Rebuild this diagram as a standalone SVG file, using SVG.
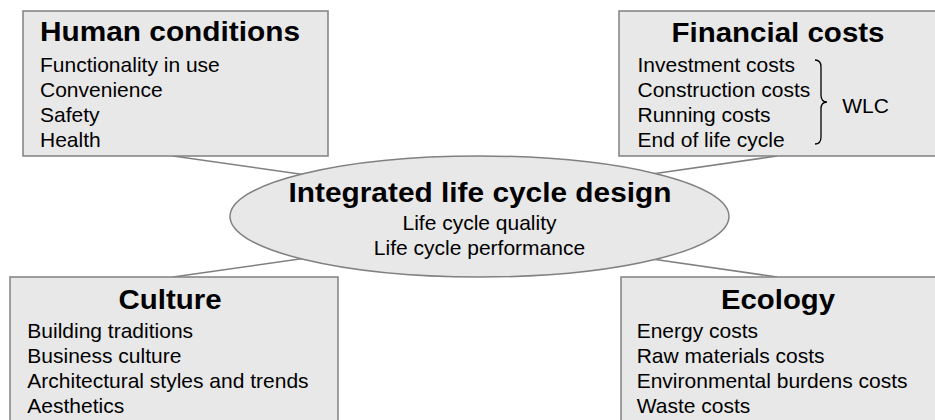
<svg xmlns="http://www.w3.org/2000/svg" width="935" height="420" viewBox="0 0 935 420">
<style>
.box{fill:#e8e8e8;stroke:#808080;stroke-width:1.5}
.con{stroke:#808080;stroke-width:1.5;fill:none}
.t{font-family:"Liberation Sans",Arial,sans-serif;font-weight:bold;font-size:27px;fill:#000;text-anchor:middle}
.i{font-family:"Liberation Sans",Arial,sans-serif;font-size:21px;fill:#000}
.c{text-anchor:middle}
.brace{stroke:#000;stroke-width:1.3;fill:none}
</style>
<rect width="935" height="420" fill="#fff"/>
<g id="connectors">
<line class="con" x1="173" y1="156" x2="310" y2="175.5"/>
<line class="con" x1="173" y1="277" x2="310" y2="257.5"/>
<line class="con" x1="777" y1="156" x2="645" y2="175"/>
<line class="con" x1="777" y1="277" x2="645" y2="258"/>
</g>
<g id="human">
<rect class="box" x="23" y="11" width="305" height="145"/>
<text class="t" x="170" y="41" textLength="260" lengthAdjust="spacingAndGlyphs">Human conditions</text>
<text class="i" x="40" y="71.7">Functionality in use</text>
<text class="i" x="40" y="96.7">Convenience</text>
<text class="i" x="40" y="121.7">Safety</text>
<text class="i" x="40" y="146.7">Health</text>
</g>
<g id="financial">
<rect class="box" x="619" y="11" width="330" height="145"/>
<text class="t" x="778" y="42" textLength="213" lengthAdjust="spacingAndGlyphs">Financial costs</text>
<text class="i" x="637.5" y="71.7">Investment costs</text>
<text class="i" x="637.5" y="96.7">Construction costs</text>
<text class="i" x="637.5" y="121.7">Running costs</text>
<text class="i" x="637.5" y="146.7">End of life cycle</text>
<path class="brace" d="M815,60 Q821,60 821,67 L821,95 Q821,102 827,102 Q821,102 821,109 L821,137 Q821,144 815,144"/>
<text class="i" x="842.3" y="112.7">WLC</text>
</g>
<g id="culture">
<rect class="box" x="10" y="277" width="328" height="160"/>
<text class="t" x="170" y="309" textLength="103" lengthAdjust="spacingAndGlyphs">Culture</text>
<text class="i" x="27.3" y="337.5">Building traditions</text>
<text class="i" x="27.3" y="362.5">Business culture</text>
<text class="i" x="27.3" y="387.5">Architectural styles and trends</text>
<text class="i" x="27.3" y="412.5">Aesthetics</text>
</g>
<g id="ecology">
<rect class="box" x="621" y="277" width="330" height="160"/>
<text class="t" x="778" y="309" textLength="114" lengthAdjust="spacingAndGlyphs">Ecology</text>
<text class="i" x="636.7" y="337.5">Energy costs</text>
<text class="i" x="636.7" y="362.5">Raw materials costs</text>
<text class="i" x="636.7" y="387.5">Environmental burdens costs</text>
<text class="i" x="636.7" y="412.5">Waste costs</text>
</g>
<g id="center">
<ellipse class="box" cx="479.5" cy="216.5" rx="249.5" ry="60.5"/>
<text class="t" x="480" y="201.5" textLength="383" lengthAdjust="spacingAndGlyphs">Integrated life cycle design</text>
<text class="i c" x="479.5" y="230">Life cycle quality</text>
<text class="i c" x="479.5" y="255">Life cycle performance</text>
</g>
</svg>
